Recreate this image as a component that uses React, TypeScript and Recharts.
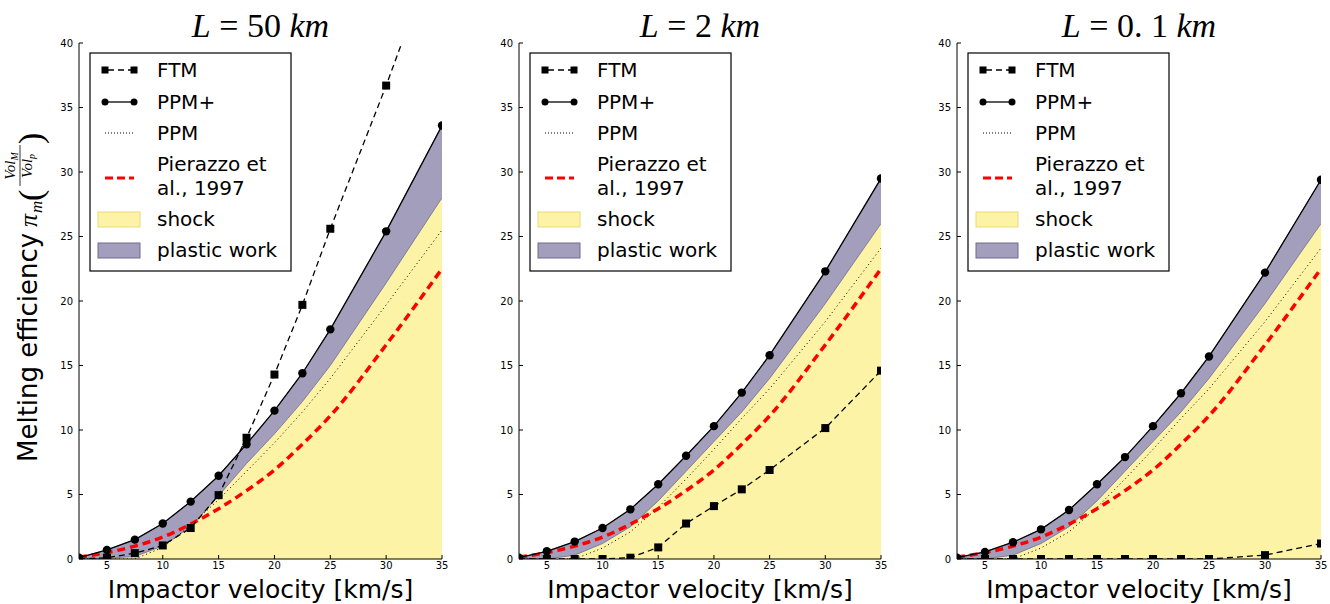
import React from 'react';
import { ComposedChart, Line, Area, XAxis, YAxis } from 'recharts';

// impact velocities where the models were sampled (km/s)
const velocity = [2.5, 5, 7.5, 10, 12.5, 15, 17.5, 20, 22.5, 25, 30, 35];
const velocityTicks = [5, 10, 15, 20, 25, 30, 35];
const efficiencyTicks = [0, 5, 10, 15, 20, 25, 30, 35, 40];

// Pierazzo et al., 1997 reference curve (same in every panel)
const pierazzo = [0.15, 0.5, 1.0, 1.7, 2.7, 3.9, 5.3, 6.9, 8.9, 11.1, 16.6, 22.5];

// L = 50 km
const ftmL50 = [0, 0.1, 0.45, 1.05, 2.4, 4.95, 9.4, 14.3, 19.7, 25.6, 36.7, 48.5];
const ppmPlusL50 = [0.1, 0.7, 1.5, 2.75, 4.45, 6.45, 8.9, 11.5, 14.4, 17.8, 25.4, 33.6];
const ppmL50 = [0, 0, 0, 0.9, 2.6, 4.6, 6.8, 9.0, 11.4, 14.0, 19.7, 25.5];
const shockL50 = [0, 0.05, 0.2, 1.0, 2.5, 4.9, 7.4, 9.7, 12.2, 15.0, 21.4, 28.0];

// L = 2 km
const ftmL2 = [0, 0, 0, 0, 0.1, 0.9, 2.75, 4.1, 5.4, 6.9, 10.15, 14.6];
const ppmPlusL2 = [0.1, 0.6, 1.35, 2.4, 3.85, 5.8, 8.0, 10.3, 12.9, 15.8, 22.3, 29.5];
const ppmL2 = [0, 0, 0, 0.85, 2.1, 4.0, 6.2, 8.5, 10.9, 13.2, 18.4, 24.1];
const shockL2 = [0, 0, 0.3, 1.2, 2.5, 4.5, 6.8, 9.1, 11.4, 14.0, 19.8, 26.0];

// L = 0.1 km
const ftmL01 = [0, 0, 0, 0, 0, 0, 0, 0, 0, 0, 0.3, 1.2];
const ppmPlusL01 = [0.1, 0.55, 1.3, 2.3, 3.8, 5.8, 7.9, 10.3, 12.85, 15.7, 22.2, 29.4];
const ppmL01 = [0, 0, 0, 0.85, 2.1, 4.0, 6.2, 8.5, 10.9, 13.2, 18.4, 24.1];
const shockL01 = [0, 0, 0.3, 1.2, 2.5, 4.5, 6.8, 9.1, 11.4, 14.0, 19.8, 26.0];

const YELLOW = '#fcf3a6';
const PURPLE = '#a29ebc';
const SANS = 'DejaVu Sans';
const SERIF = 'Liberation Serif';

const panels = [
  { title: '50', ftm: ftmL50, ppmPlus: ppmPlusL50, ppm: ppmL50, shock: shockL50, plotLeft: 79, plotRight: 442 },
  { title: '2', ftm: ftmL2, ppmPlus: ppmPlusL2, ppm: ppmL2, shock: shockL2, plotLeft: 519, plotRight: 881 },
  { title: '0. 1', ftm: ftmL01, ppmPlus: ppmPlusL01, ppm: ppmL01, shock: shockL01, plotLeft: 957, plotRight: 1321 },
];

const PLOT_TOP = 43;
const PLOT_BOTTOM = 559;
const AXIS_W = 40;
const PAD_R = 9;

const SquareDot = (props: any) => {
  const { cx, cy, index } = props;
  if (cx == null || cy == null) return null;
  return <rect key={`sq-${index}`} x={cx - 4} y={cy - 4} width={8} height={8} fill="#000" />;
};

const RoundDot = (props: any) => {
  const { cx, cy, index } = props;
  if (cx == null || cy == null) return null;
  return <circle key={`ci-${index}`} cx={cx} cy={cy} r={4.2} fill="#000" />;
};

function Panel({ p }: { p: typeof panels[number] }) {
  const rows = velocity.map((v, i) => ({
    v,
    ftm: p.ftm[i],
    ppmPlus: p.ppmPlus[i],
    ppm: p.ppm[i],
    shock: p.shock[i],
    plastic: [p.shock[i], p.ppmPlus[i]],
    pierazzo: pierazzo[i],
  }));
  const plotW = p.plotRight - p.plotLeft;
  const tickStyle = { fontSize: 10, fill: '#000', fontFamily: SANS };

  return (
    <div style={{ position: 'absolute', left: p.plotLeft - AXIS_W, top: 0 }}>
      <ComposedChart width={plotW + AXIS_W + PAD_R} height={604} data={rows} margin={{ top: PLOT_TOP, right: PAD_R, bottom: 0, left: 0 }}>
        <XAxis xAxisId="b" dataKey="v" type="number" domain={[2.5, 35]} ticks={velocityTicks} allowDataOverflow
          height={604 - PLOT_BOTTOM} tickSize={-4} tickMargin={7} tick={tickStyle} stroke="#000" interval={0} />
        <XAxis xAxisId="t" orientation="top" dataKey="v" type="number" domain={[2.5, 35]} ticks={velocityTicks}
          height={0} tickSize={-4} tickFormatter={() => ''} stroke="#000" interval={0} />
        <YAxis yAxisId="l" type="number" domain={[0, 40]} ticks={efficiencyTicks} allowDataOverflow
          width={AXIS_W} tickSize={-4} tickMargin={10} tick={tickStyle} stroke="#000" interval={0} />
        <YAxis yAxisId="r" orientation="right" type="number" domain={[0, 40]} ticks={efficiencyTicks}
          width={0} tickSize={-4} tickFormatter={() => ''} stroke="#000" interval={0} />

        <Area xAxisId="b" yAxisId="l" type="linear" dataKey="shock" fill={YELLOW} fillOpacity={1} stroke="none" isAnimationActive={false} />
        <Area xAxisId="b" yAxisId="l" type="linear" dataKey="plastic" fill={PURPLE} fillOpacity={1} stroke="#6f6b8e" strokeWidth={0.8} isAnimationActive={false} />
        <Line xAxisId="b" yAxisId="l" type="linear" dataKey="ppm" stroke="#000" strokeWidth={1} strokeDasharray="1 3" dot={false} isAnimationActive={false} />
        <Line xAxisId="b" yAxisId="l" type="monotone" dataKey="pierazzo" stroke="#ff0000" strokeWidth={3.5} strokeDasharray="8 5" dot={false} isAnimationActive={false} />
        <Line xAxisId="b" yAxisId="l" type="linear" dataKey="ppmPlus" stroke="#000" strokeWidth={1.3} dot={RoundDot} isAnimationActive={false} />
        <Line xAxisId="b" yAxisId="l" type="linear" dataKey="ftm" stroke="#000" strokeWidth={1.3} strokeDasharray="6 4" dot={SquareDot} isAnimationActive={false} />
      </ComposedChart>
    </div>
  );
}

function PanelLegend({ x }: { x: number }) {
  const tx = 67;
  const text = { fontFamily: SANS, fontSize: 20, fill: '#000' };
  return (
    <g transform={`translate(${x},53)`}>
      <rect x={0} y={0} width={201} height={218} fill="#fff" stroke="#000" strokeWidth={1.2} />
      <line x1={15} x2={44} y1={17} y2={17} stroke="#000" strokeWidth={1.3} strokeDasharray="6 4" strokeDashoffset={-3} />
      <rect x={11.5} y={13.5} width={7} height={7} fill="#000" />
      <rect x={40.5} y={13.5} width={7} height={7} fill="#000" />
      <text x={tx} y={24} {...text}>FTM</text>
      <line x1={15} x2={44} y1={49} y2={49} stroke="#000" strokeWidth={1.3} />
      <circle cx={15} cy={49} r={3.5} fill="#000" />
      <circle cx={44} cy={49} r={3.5} fill="#000" />
      <text x={tx} y={56} {...text}>PPM+</text>
      <line x1={15} x2={44} y1={80} y2={80} stroke="#000" strokeWidth={1} strokeDasharray="1 2" />
      <text x={tx} y={87} {...text}>PPM</text>
      <line x1={15} x2={44} y1={125} y2={125} stroke="#ff0000" strokeWidth={3} strokeDasharray="8 4" />
      <text x={tx} y={118} {...text}>Pierazzo et</text>
      <text x={tx} y={142} {...text}>al., 1997</text>
      <rect x={8} y={159} width={42} height={15} fill={YELLOW} stroke="#e9dc78" strokeWidth={1} />
      <text x={tx} y={173} {...text}>shock</text>
      <rect x={8} y={190} width={42} height={15} fill={PURPLE} stroke="#6f6b8e" strokeWidth={1} />
      <text x={tx} y={204} {...text}>plastic work</text>
    </g>
  );
}

export default function App() {
  return (
    <div style={{ position: 'absolute', left: 0, top: 0, width: 1330, height: 604, background: '#fff' }}>
      {panels.map((p, i) => <Panel key={i} p={p} />)}
      <svg width={1330} height={604} style={{ position: 'absolute', left: 0, top: 0, pointerEvents: 'none' }}>
        {panels.map((p, i) => {
          const cx = (p.plotLeft + p.plotRight) / 2;
          return (
            <g key={i}>
              <text x={cx} y={37} textAnchor="middle" fontFamily={SERIF} fontSize={34}>
                <tspan fontStyle="italic">L</tspan>
                <tspan> = {p.title} </tspan>
                <tspan fontStyle="italic">km</tspan>
              </text>
              <text x={cx} y={598} textAnchor="middle" fontFamily={SANS} fontSize={25}>Impactor velocity [km/s]</text>
              <PanelLegend x={p.plotLeft + 11} />
            </g>
          );
        })}
        <g transform="translate(37,301) rotate(-90)">
          <text x={-161} y={0} fontFamily={SANS} fontSize={26}>Melting efficiency</text>
          <text x={74} y={0} fontFamily={SERIF} fontStyle="italic" fontSize={26}>π</text>
          <text x={88} y={5} fontFamily={SERIF} fontStyle="italic" fontSize={17}>m</text>
          <text x={100} y={5} fontFamily={SERIF} fontSize={34}>(</text>
          <text x={135} y={-22} textAnchor="middle" fontFamily={SERIF} fontStyle="italic" fontSize={15}>
            Vol<tspan fontSize={10} dy={3}>M</tspan>
          </text>
          <line x1={115} x2={156} y1={-17} y2={-17} stroke="#000" strokeWidth={0.8} />
          <text x={135} y={-5} textAnchor="middle" fontFamily={SERIF} fontStyle="italic" fontSize={15}>
            Vol<tspan fontSize={10} dy={3}>p</tspan>
          </text>
          <text x={157} y={5} fontFamily={SERIF} fontSize={34}>)</text>
        </g>
      </svg>
    </div>
  );
}
